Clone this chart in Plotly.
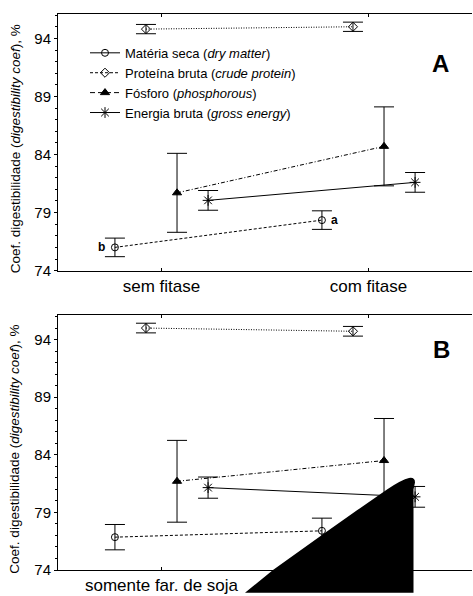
import plotly.graph_objects as go

# ---------------- data ----------------
cats_A = ["sem fitase", "com fitase"]
cats_B = ["somente far. de soja", "com fitase"]

series_names = [
    "Matéria seca (<i>dry matter</i>)",
    "Proteína bruta (<i>crude protein</i>)",
    "Fósforo (<i>phosphorous</i>)",
    "Energia bruta (<i>gross energy</i>)",
]
offsets = [-0.225, -0.075, 0.075, 0.225]

ms_A = [76.0, 78.35]
ms_A_err = [0.8, 0.8]
pb_A = [94.8, 95.0]
pb_A_err = [0.4, 0.4]
p_A = [80.7, 84.7]
p_A_err = [3.4, 3.4]
e_A = [80.05, 81.6]
e_A_err = [0.85, 0.85]

ms_B = [76.85, 77.4]
ms_B_err = [1.1, 1.1]
pb_B = [95.0, 94.72]
pb_B_err = [0.42, 0.42]
p_B = [81.7, 83.5]
p_B_err = [3.55, 3.65]
e_B = [81.15, 80.35]
e_B_err = [0.92, 0.9]

letters_A = ["b", "a"]

# ---------------- layout helpers ----------------
W, H = 473, 596
ML, MR, MT, MB = 58, 1, 14, 23
PW = W - ML - MR
PH = H - MT - MB


def fx(px):
    return (px - ML) / PW


def fy(py):
    return (H - MB - py) / PH


Y_RANGE = [74, 96.1]
X_RANGE = [-0.5, 1.5]

styles = [
    dict(symbol="circle-open", size=7, dash="3px,2px"),
    dict(symbol="diamond-open", size=7, dash="1px,1.5px"),
    dict(symbol="triangle-up", size=8, dash="4px,2px,1px,2px"),
    dict(symbol="asterisk-open", size=9, dash="solid"),
]
legend_dash = ["solid", "3px,2px", "5px,3px", "solid"]

fig = go.Figure()

panels = [
    ("x", "y", [ms_A, pb_A, p_A, e_A], [ms_A_err, pb_A_err, p_A_err, e_A_err]),
    ("x2", "y2", [ms_B, pb_B, p_B, e_B], [ms_B_err, pb_B_err, p_B_err, e_B_err]),
]

for xa, ya, vals, errs in panels:
    for i in range(4):
        st = styles[i]
        fig.add_trace(go.Scatter(
            x=[k + offsets[i] for k in range(2)],
            y=vals[i],
            xaxis=xa, yaxis=ya,
            mode="lines+markers",
            line=dict(color="black", width=1, dash=st["dash"]),
            marker=dict(symbol=st["symbol"], size=st["size"], color="black",
                        line=dict(color="black", width=1)),
            error_y=dict(type="data", array=errs[i], width=10, thickness=1, color="black"),
            showlegend=False,
        ))

# legend entries (as drawn in the reference legend)
for i in range(4):
    st = styles[i]
    fig.add_trace(go.Scatter(
        x=[None], y=[None], xaxis="x", yaxis="y",
        mode="lines+markers", name=series_names[i],
        line=dict(color="black", width=1, dash=legend_dash[i]),
        marker=dict(symbol=st["symbol"], size=st["size"], color="black",
                    line=dict(color="black", width=1)),
        showlegend=True,
    ))

font = "Arial, Liberation Sans, sans-serif"
domA = [fy(272), fy(14)]
domB = [fy(573), fy(317)]

xcommon = dict(range=X_RANGE, tickvals=[0, 1], showline=True, linecolor="black", linewidth=1,
               mirror="ticks", ticks="inside", ticklen=3, tickcolor="black", showgrid=False,
               zeroline=False, tickfont=dict(size=17, color="black", family=font), fixedrange=True)
ycommon = dict(range=Y_RANGE, tick0=74, dtick=5, showline=True, linecolor="black", linewidth=1,
               ticks="outside", ticklen=3, tickcolor="black", showgrid=False, zeroline=False,
               tickfont=dict(size=15, color="black", family=font),
               minor=dict(dtick=1, ticks="outside", ticklen=2, tickcolor="black"))
yright = dict(range=Y_RANGE, tick0=74, dtick=5, showline=False, ticks="inside", ticklen=4,
              tickcolor="#555", showticklabels=False, showgrid=False, zeroline=False, side="right",
              minor=dict(dtick=1, ticks="inside", ticklen=2, tickcolor="#888"))

fig.update_layout(
    width=W, height=H,
    margin=dict(l=ML, r=MR, t=MT, b=MB, pad=0),
    paper_bgcolor="white", plot_bgcolor="white",
    font=dict(family=font, color="black"),
    xaxis=dict(xcommon, domain=[0, 1], anchor="y", ticktext=cats_A),
    yaxis=dict(ycommon, domain=domA, anchor="x"),
    xaxis2=dict(xcommon, domain=[0, 1], anchor="y2", ticktext=cats_B),
    yaxis2=dict(ycommon, domain=domB, anchor="x2"),
    yaxis3=dict(yright, overlaying="y", anchor="x"),
    yaxis4=dict(yright, overlaying="y2", anchor="x2"),
    legend=dict(x=fx(85), y=fy(38), xanchor="left", yanchor="top",
                bgcolor="rgba(0,0,0,0)", font=dict(size=13, color="black", family=font),
                tracegroupgap=0),
    showlegend=True,
)

ann = []
ann.append(dict(text="<b>A</b>", x=fx(451), y=fy(48), xref="paper", yref="paper",
                showarrow=False, font=dict(size=24, color="black", family=font)))
ann.append(dict(text="<b>B</b>", x=fx(452), y=fy(351), xref="paper", yref="paper",
                showarrow=False, font=dict(size=24, color="black", family=font)))
ytitle = "Coef. digestibilidade (<i>digestibility coef</i>), %"
for cy in (150, 452):
    ann.append(dict(text=ytitle, x=fx(15), y=fy(cy), xref="paper", yref="paper",
                    xanchor="center", yanchor="middle",
                    textangle=-90, showarrow=False, font=dict(size=13.5, color="black", family=font)))
for k in range(2):
    ann.append(dict(text="<b>%s</b>" % letters_A[k], x=k + offsets[0], y=ms_A[k], xref="x", yref="y",
                    xshift=-13 if k == 0 else 13, showarrow=False,
                    font=dict(size=12, color="black", family=font)))
fig.update_layout(annotations=ann)

# black rendering artefact present in the reference image (panel B)
blob_px = [("M", 245, 596), ("L", 273, 573), ("L", 323, 537), ("L", 357, 513), ("L", 387, 492)]
path = " ".join("%s %.4f,%.4f" % (c, fx(a), fy(b)) for c, a, b in blob_px)
path += " Q %.4f,%.4f %.4f,%.4f" % (fx(402), fy(482), fx(409), fy(480.5))
path += " Q %.4f,%.4f %.4f,%.4f" % (fx(415), fy(479.5), fx(415), fy(485))
path += " L %.4f,%.4f L %.4f,%.4f Z" % (fx(413.5), fy(492), fx(413.5), fy(596))
fig.add_shape(type="path", path=path, xref="paper", yref="paper",
              fillcolor="black", line=dict(color="black", width=0), layer="above")

fig.write_html("out.html")
